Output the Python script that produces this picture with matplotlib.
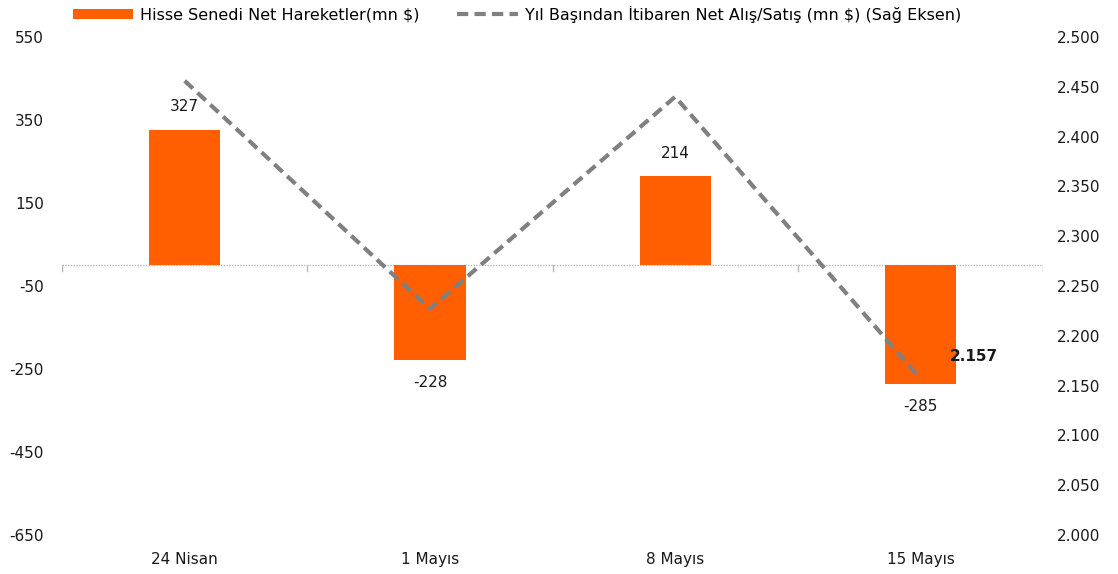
import matplotlib.pyplot as plt
import numpy as np

categories = ["24 Nisan", "1 Mayıs", "8 Mayıs", "15 Mayıs"]
net_moves = [327, -228, 214, -285]
ytd_net = [2.456, 2.227, 2.440, 2.157]
bar_label = "Hisse Senedi Net Hareketler(mn $)"
line_label = "Yıl Başından İtibaren Net Alış/Satış (mn $) (Sağ Eksen)"

plt.rcParams['font.family'] = ['DejaVu Sans']
plt.rcParams['axes.unicode_minus'] = False
fs = 11
orange = "#FF5F00"
grey = "#808080"
txt = "#1a1a1a"

fig = plt.figure(figsize=(11.18, 5.74), dpi=100)
ax = fig.add_axes([0.0555, 0.068, 0.8775, 0.8675])
ax2 = ax.twinx()

x = np.arange(len(categories))
ax.bar(x, net_moves, width=0.29, color=orange, label=bar_label, zorder=2)
ax2.plot(x, ytd_net, color=grey, lw=3, ls=(0, (2.7, 1.5)), label=line_label, zorder=3)

ax.set_xlim(-0.5, len(categories) - 0.5)
ax.set_ylim(-650, 550)
ax.set_yticks(np.arange(-650, 551, 200))
ax2.set_ylim(2.0, 2.5)
ticks2 = np.arange(2.0, 2.501, 0.05)
ax2.set_yticks(ticks2)
ax2.set_yticklabels([f"{v:.3f}" for v in ticks2])

ax.set_xticks(x)
ax.set_xticklabels(categories)
ax.axhline(0, color="#b8b8b8", lw=1, ls=(0, (1, 1)), zorder=1)
for b in np.arange(-0.5, len(categories) + 0.5, 1):
    ax.plot([b, b], [0, -14], color="#b8b8b8", lw=1, zorder=1)

for a in (ax, ax2):
    for s in a.spines.values():
        s.set_visible(False)
    a.tick_params(length=0, labelsize=fs, colors=txt)
ax.tick_params(axis="y", pad=13)
ax.tick_params(axis="x", pad=12)
ax2.tick_params(axis="y", pad=10)

for xi, v in zip(x, net_moves):
    off = 55 if v >= 0 else -55
    ax.text(xi, v + off, f"{v}", ha="center", va="center", fontsize=fs, color=txt, zorder=4)

last = ytd_net[-1]
ax2.text(x[-1] + 0.12, last + 0.022, f"{last:.3f}", ha="left", va="center",
         fontsize=fs, fontweight="bold", color=txt)

h1, l1 = ax.get_legend_handles_labels()
h2, l2 = ax2.get_legend_handles_labels()
fig.legend(h1 + h2, l1 + l2, loc="upper left", bbox_to_anchor=(0.052, 1.015), ncol=2,
           frameon=False, fontsize=11.5, handlelength=3.8, handleheight=0.6,
           columnspacing=2.4, handletextpad=0.4)

fig.savefig("out.png", dpi=100)
